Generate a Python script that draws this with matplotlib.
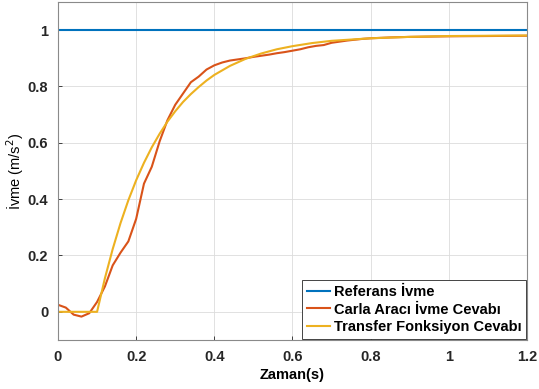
import matplotlib
matplotlib.use('Agg')
import matplotlib.pyplot as plt

plt.rcParams['font.family'] = ['Liberation Sans', 'DejaVu Sans']

# Referans ivme
t_ref = [0.0, 1.2]
a_ref = [1.0, 1.0]

# Carla aracı ivme cevabı
t_carla = [0.00, 0.02, 0.04, 0.06, 0.08, 0.10, 0.12, 0.14, 0.16, 0.18,
           0.20, 0.22, 0.24, 0.26, 0.28, 0.30, 0.32, 0.34, 0.36, 0.38,
           0.40, 0.42, 0.44, 0.46, 0.48, 0.50, 0.52, 0.54, 0.56, 0.58,
           0.60, 0.62, 0.64, 0.66, 0.68, 0.70, 0.72, 0.74, 0.76, 0.78,
           0.80, 0.85, 0.90, 1.00, 1.10, 1.20]
a_carla = [0.025, 0.015, -0.010, -0.017, -0.005, 0.035, 0.090, 0.165, 0.210, 0.250,
           0.330, 0.455, 0.515, 0.605, 0.680, 0.735, 0.775, 0.815, 0.835, 0.860,
           0.875, 0.885, 0.892, 0.896, 0.900, 0.905, 0.909, 0.913, 0.918, 0.922,
           0.927, 0.932, 0.939, 0.944, 0.947, 0.955, 0.959, 0.963, 0.966, 0.969,
           0.971, 0.974, 0.976, 0.978, 0.979, 0.980]

# Transfer fonksiyon cevabı
t_tf = [0.00, 0.10, 0.12, 0.14, 0.16, 0.18, 0.20, 0.22, 0.24, 0.26,
        0.28, 0.30, 0.32, 0.34, 0.36, 0.38, 0.40, 0.44, 0.48, 0.52,
        0.56, 0.60, 0.65, 0.70, 0.80, 0.90, 1.00, 1.10, 1.20]
a_tf = [0.000, 0.000, 0.119, 0.223, 0.315, 0.396, 0.467, 0.529, 0.584, 0.632,
        0.675, 0.712, 0.745, 0.773, 0.798, 0.821, 0.841, 0.873, 0.898, 0.917,
        0.932, 0.943, 0.954, 0.962, 0.971, 0.976, 0.979, 0.980, 0.981]

fig = plt.figure(figsize=(5.39, 3.89), dpi=100)
ax = fig.add_axes([0.1076, 0.126, 0.8701, 0.869])

ax.plot(t_ref, a_ref, color='#0072BD', lw=1.5, label='Referans İvme')
ax.plot(t_carla, a_carla, color='#D95319', lw=1.5, label='Carla Aracı İvme Cevabı')
ax.plot(t_tf, a_tf, color='#EDB120', lw=1.5, label='Transfer Fonksiyon Cevabı')

ax.set_xlim(0, 1.2)
ax.set_ylim(-0.1, 1.1)
ax.set_xticks([0, 0.2, 0.4, 0.6, 0.8, 1.0, 1.2])
ax.set_xticklabels(['0', '0.2', '0.4', '0.6', '0.8', '1', '1.2'])
ax.set_yticks([0, 0.2, 0.4, 0.6, 0.8, 1.0])
ax.set_yticklabels(['0', '0.2', '0.4', '0.6', '0.8', '1'])
ax.tick_params(direction='in', length=3, width=0.6, colors='#262626', labelsize=10.5, pad=7)
for lbl in ax.get_xticklabels() + ax.get_yticklabels():
    lbl.set_fontweight('bold')
ax.grid(True, color='#dcdcdc', lw=0.6)
for s in ax.spines.values():
    s.set_color('#8a8a8a')
    s.set_linewidth(0.8)

ax.set_xlabel('Zaman(s)', fontsize=10.5, fontweight='bold', labelpad=3)
ax.set_ylabel('İvme (m/s$^2$)', fontsize=10.5, labelpad=1)

leg = ax.legend(loc='lower right', fancybox=False, edgecolor='#262626',
                framealpha=1, handlelength=1.6, handletextpad=0.25,
                borderpad=0.3, labelspacing=0.25, borderaxespad=0.1,
                prop={'weight': 'bold', 'size': 10.5})
leg.get_frame().set_linewidth(0.6)

fig.savefig('out.png', dpi=100)
